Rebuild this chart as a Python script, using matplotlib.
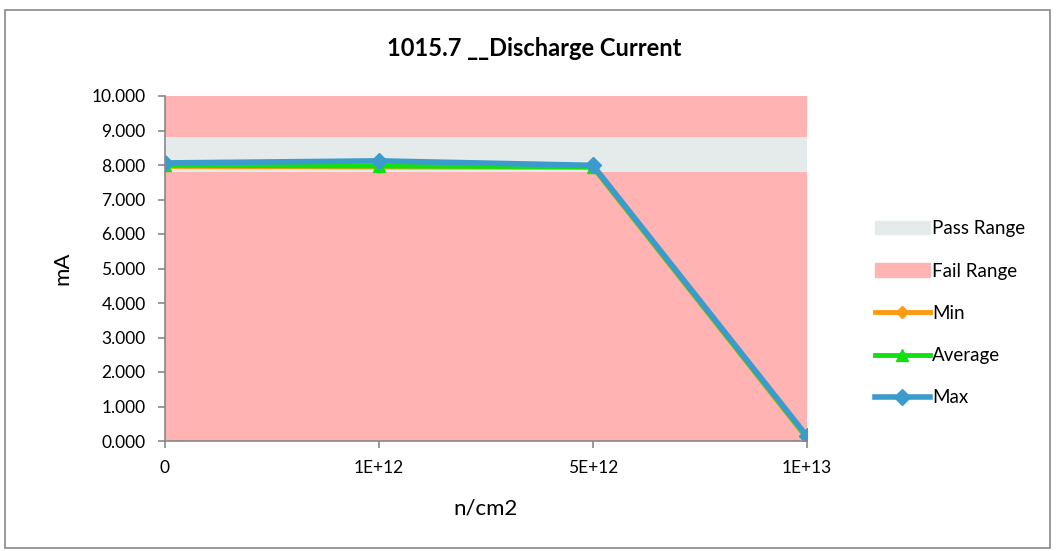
import matplotlib.pyplot as plt
from matplotlib.patches import Rectangle

plt.rcParams['font.family'] = ['Lato', 'DejaVu Sans']

# data
categories = ['0', '1E+12', '5E+12', '1E+13']
fail_low = [7.8, 7.8, 7.8, 7.8]
pass_band = [1.0, 1.0, 1.0, 1.0]
fail_high = [1.2, 1.2, 1.2, 1.2]
min_vals = [7.96, 7.94, 7.93, 0.07]
avg_vals = [7.99, 7.97, 7.95, 0.10]
max_vals = [8.06, 8.12, 7.99, 0.14]

x = list(range(len(categories)))

fig = plt.figure(figsize=(10.56, 5.51), dpi=100)
ax = fig.add_axes([165 / 1056, 1 - 441 / 551, 642 / 1056, 345 / 551])

# stacked ranges: fail / pass / fail
fail_col = '#ffb3b3'
pass_col = '#e5ebeb'
ax.stackplot(x, fail_low, pass_band, fail_high,
             colors=[fail_col, pass_col, fail_col], linewidth=0)

ax.plot(x, min_vals, color='#ff9a12', lw=3.5, marker='D', ms=6, label='Min')
ax.plot(x, avg_vals, color='#13e013', lw=3.5, marker='^', ms=8, label='Average')
ax.plot(x, max_vals, color='#3b9bcc', lw=4, marker='D', ms=8, label='Max')

ax.set_xlim(0, 3)
ax.set_ylim(0, 10)
ax.set_yticks([i for i in range(11)])
ax.set_yticklabels([f'{i:.3f}' for i in range(11)], fontsize=12.5)
ax.set_xticks(x)
ax.set_xticklabels(categories, fontsize=12.5)
ax.tick_params(axis='both', color='#888888', length=5, width=1.2)
ax.tick_params(axis='x', pad=9)
ax.tick_params(axis='y', pad=9)
for s in ['top', 'right']:
    ax.spines[s].set_visible(False)
for s in ['left', 'bottom']:
    ax.spines[s].set_color('#888888')
    ax.spines[s].set_linewidth(1.2)

fig.text(534 / 1056, 1 - 48 / 551, '1015.7 __Discharge Current', fontsize=17,
         fontweight='bold', ha='center', va='center')
ax.set_ylabel('mA', fontsize=16, labelpad=14)
ax.set_xlabel('n/cm2', fontsize=16, labelpad=16)

# legend
handles = [Rectangle((0, 0), 1, 1, color=pass_col),
           Rectangle((0, 0), 1, 1, color=fail_col)]
labels = ['Pass Range', 'Fail Range']
h, l = ax.get_legend_handles_labels()
leg = ax.legend(handles + h, labels + l, loc='center left',
                bbox_to_anchor=(1.08, 0.37), frameon=False, fontsize=13.5,
                labelspacing=1.35, handlelength=2.9, handletextpad=0.15)

# outer chart border
fig.patches.append(Rectangle((5 / 1056, 1 - 548 / 551), 1045 / 1056, 538 / 551,
                             transform=fig.transFigure, fill=False,
                             edgecolor='#888888', lw=1.2))

fig.savefig('out.png', dpi=100)
